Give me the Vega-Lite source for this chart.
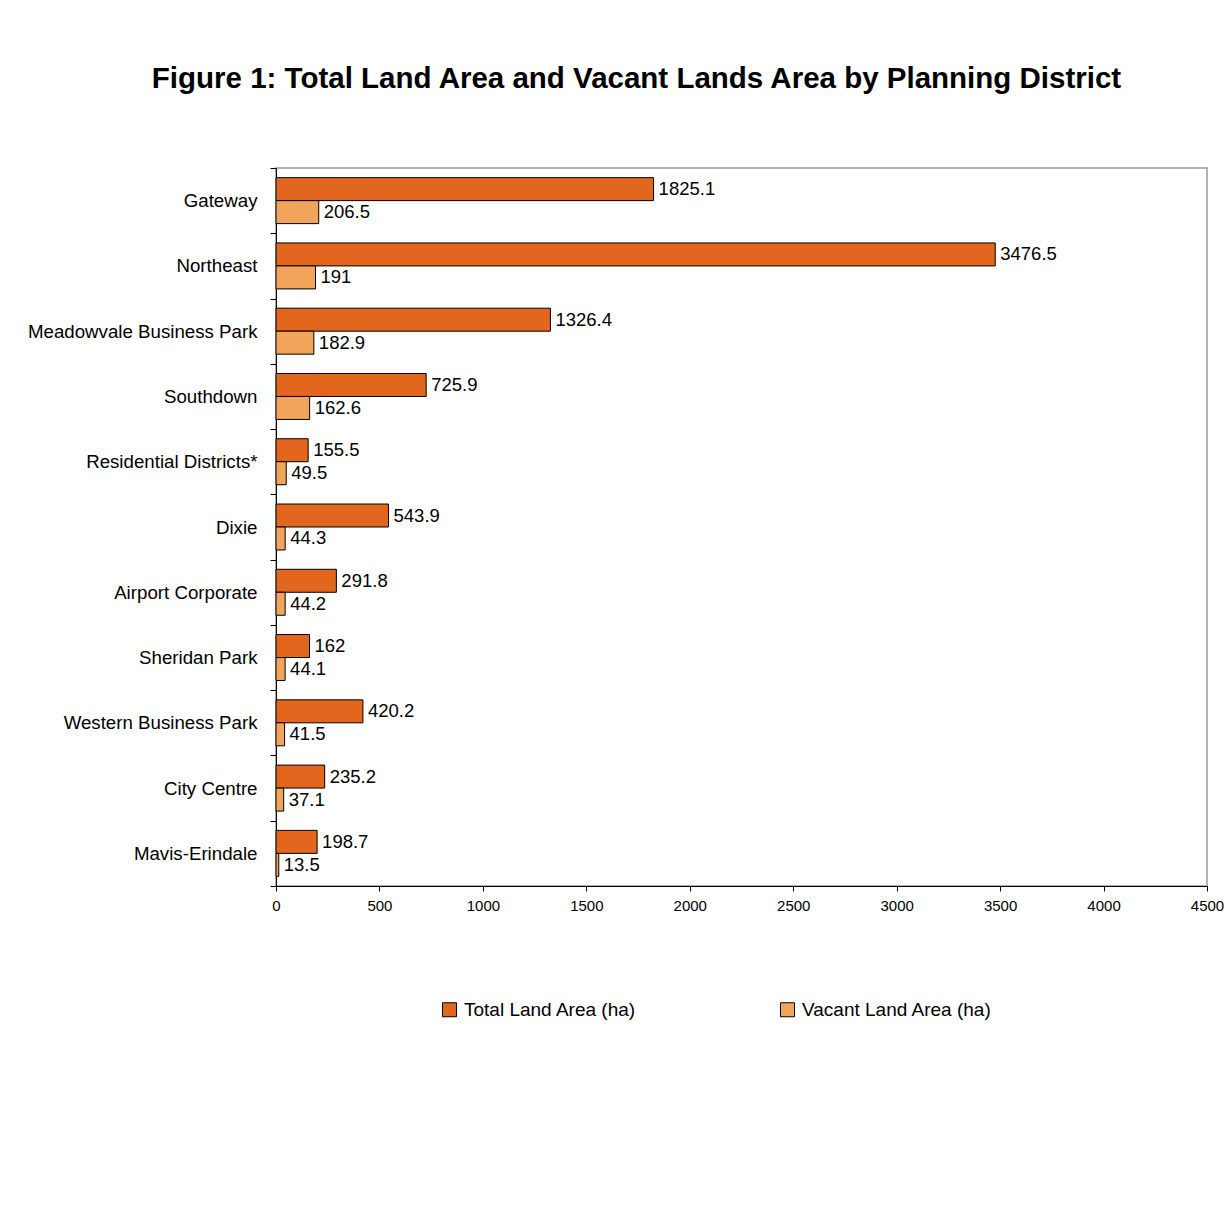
{
  "$schema": "https://vega.github.io/schema/vega-lite/v6.json",
  "width": 931,
  "height": 718,
  "autosize": {"type": "none"},
  "padding": {"left": 276, "top": 168, "right": 19, "bottom": 334},
  "background": "white",
  "title": {
    "text": "Figure 1: Total Land Area and Vacant Lands Area by Planning District",
    "font": "Liberation Sans",
    "fontSize": 29.5,
    "fontWeight": "bold",
    "color": "black",
    "anchor": "middle",
    "dx": -105,
    "offset": 65
  },
  "config": {
    "font": "Liberation Sans",
    "view": {"stroke": "#999999", "strokeWidth": 1.5}
  },
  "data": {
    "values": [
      {"district": "Gateway", "series": "Total Land Area (ha)", "value": 1825.1},
      {"district": "Gateway", "series": "Vacant Land Area (ha)", "value": 206.5},
      {"district": "Northeast", "series": "Total Land Area (ha)", "value": 3476.5},
      {"district": "Northeast", "series": "Vacant Land Area (ha)", "value": 191},
      {"district": "Meadowvale Business Park", "series": "Total Land Area (ha)", "value": 1326.4},
      {"district": "Meadowvale Business Park", "series": "Vacant Land Area (ha)", "value": 182.9},
      {"district": "Southdown", "series": "Total Land Area (ha)", "value": 725.9},
      {"district": "Southdown", "series": "Vacant Land Area (ha)", "value": 162.6},
      {"district": "Residential Districts*", "series": "Total Land Area (ha)", "value": 155.5},
      {"district": "Residential Districts*", "series": "Vacant Land Area (ha)", "value": 49.5},
      {"district": "Dixie", "series": "Total Land Area (ha)", "value": 543.9},
      {"district": "Dixie", "series": "Vacant Land Area (ha)", "value": 44.3},
      {"district": "Airport Corporate", "series": "Total Land Area (ha)", "value": 291.8},
      {"district": "Airport Corporate", "series": "Vacant Land Area (ha)", "value": 44.2},
      {"district": "Sheridan Park", "series": "Total Land Area (ha)", "value": 162},
      {"district": "Sheridan Park", "series": "Vacant Land Area (ha)", "value": 44.1},
      {"district": "Western Business Park", "series": "Total Land Area (ha)", "value": 420.2},
      {"district": "Western Business Park", "series": "Vacant Land Area (ha)", "value": 41.5},
      {"district": "City Centre", "series": "Total Land Area (ha)", "value": 235.2},
      {"district": "City Centre", "series": "Vacant Land Area (ha)", "value": 37.1},
      {"district": "Mavis-Erindale", "series": "Total Land Area (ha)", "value": 198.7},
      {"district": "Mavis-Erindale", "series": "Vacant Land Area (ha)", "value": 13.5}
    ]
  },
  "encoding": {
    "y": {
      "field": "district",
      "type": "nominal",
      "sort": null,
      "scale": {"paddingInner": 0, "paddingOuter": 0},
      "axis": {
        "title": null,
        "domainColor": "black",
        "tickColor": "black",
        "tickSize": 6,
        "tickBand": "extent",
        "labelFontSize": 18.7,
        "labelColor": "black",
        "labelPadding": 13,
        "labelLimit": 400
      }
    },
    "yOffset": {
      "field": "series",
      "type": "nominal",
      "sort": ["Total Land Area (ha)", "Vacant Land Area (ha)"],
      "scale": {"paddingInner": 0, "paddingOuter": 0.42}
    },
    "x": {
      "field": "value",
      "type": "quantitative",
      "scale": {"domain": [0, 4500], "nice": false},
      "axis": {
        "title": null,
        "values": [0, 500, 1000, 1500, 2000, 2500, 3000, 3500, 4000, 4500],
        "format": "d",
        "grid": false,
        "domainColor": "black",
        "tickColor": "black",
        "tickSize": 5,
        "labelFontSize": 15,
        "labelColor": "black",
        "labelPadding": 7,
        "labelFlush": false,
        "labelOverlap": false
      }
    }
  },
  "layer": [
    {
      "mark": {"type": "bar", "stroke": "black", "strokeWidth": 1},
      "encoding": {
        "color": {
          "field": "series",
          "type": "nominal",
          "scale": {
            "domain": ["Total Land Area (ha)", "Vacant Land Area (ha)"],
            "range": ["#E3661F", "#F2A55A"]
          },
          "legend": {
            "title": null,
            "orient": "none",
            "direction": "horizontal",
            "legendX": 164,
            "legendY": 832,
            "symbolType": "square",
            "symbolSize": 196,
            "symbolStrokeColor": "black",
            "symbolStrokeWidth": 1,
            "labelFontSize": 19,
            "labelColor": "black",
            "labelOffset": 5,
            "columnPadding": 141,
            "labelLimit": 400
          }
        }
      }
    },
    {
      "mark": {"type": "text", "align": "left", "baseline": "middle", "dx": 5, "fontSize": 18.5, "color": "black"},
      "encoding": {
        "text": {"field": "value", "type": "nominal"}
      }
    }
  ]
}
